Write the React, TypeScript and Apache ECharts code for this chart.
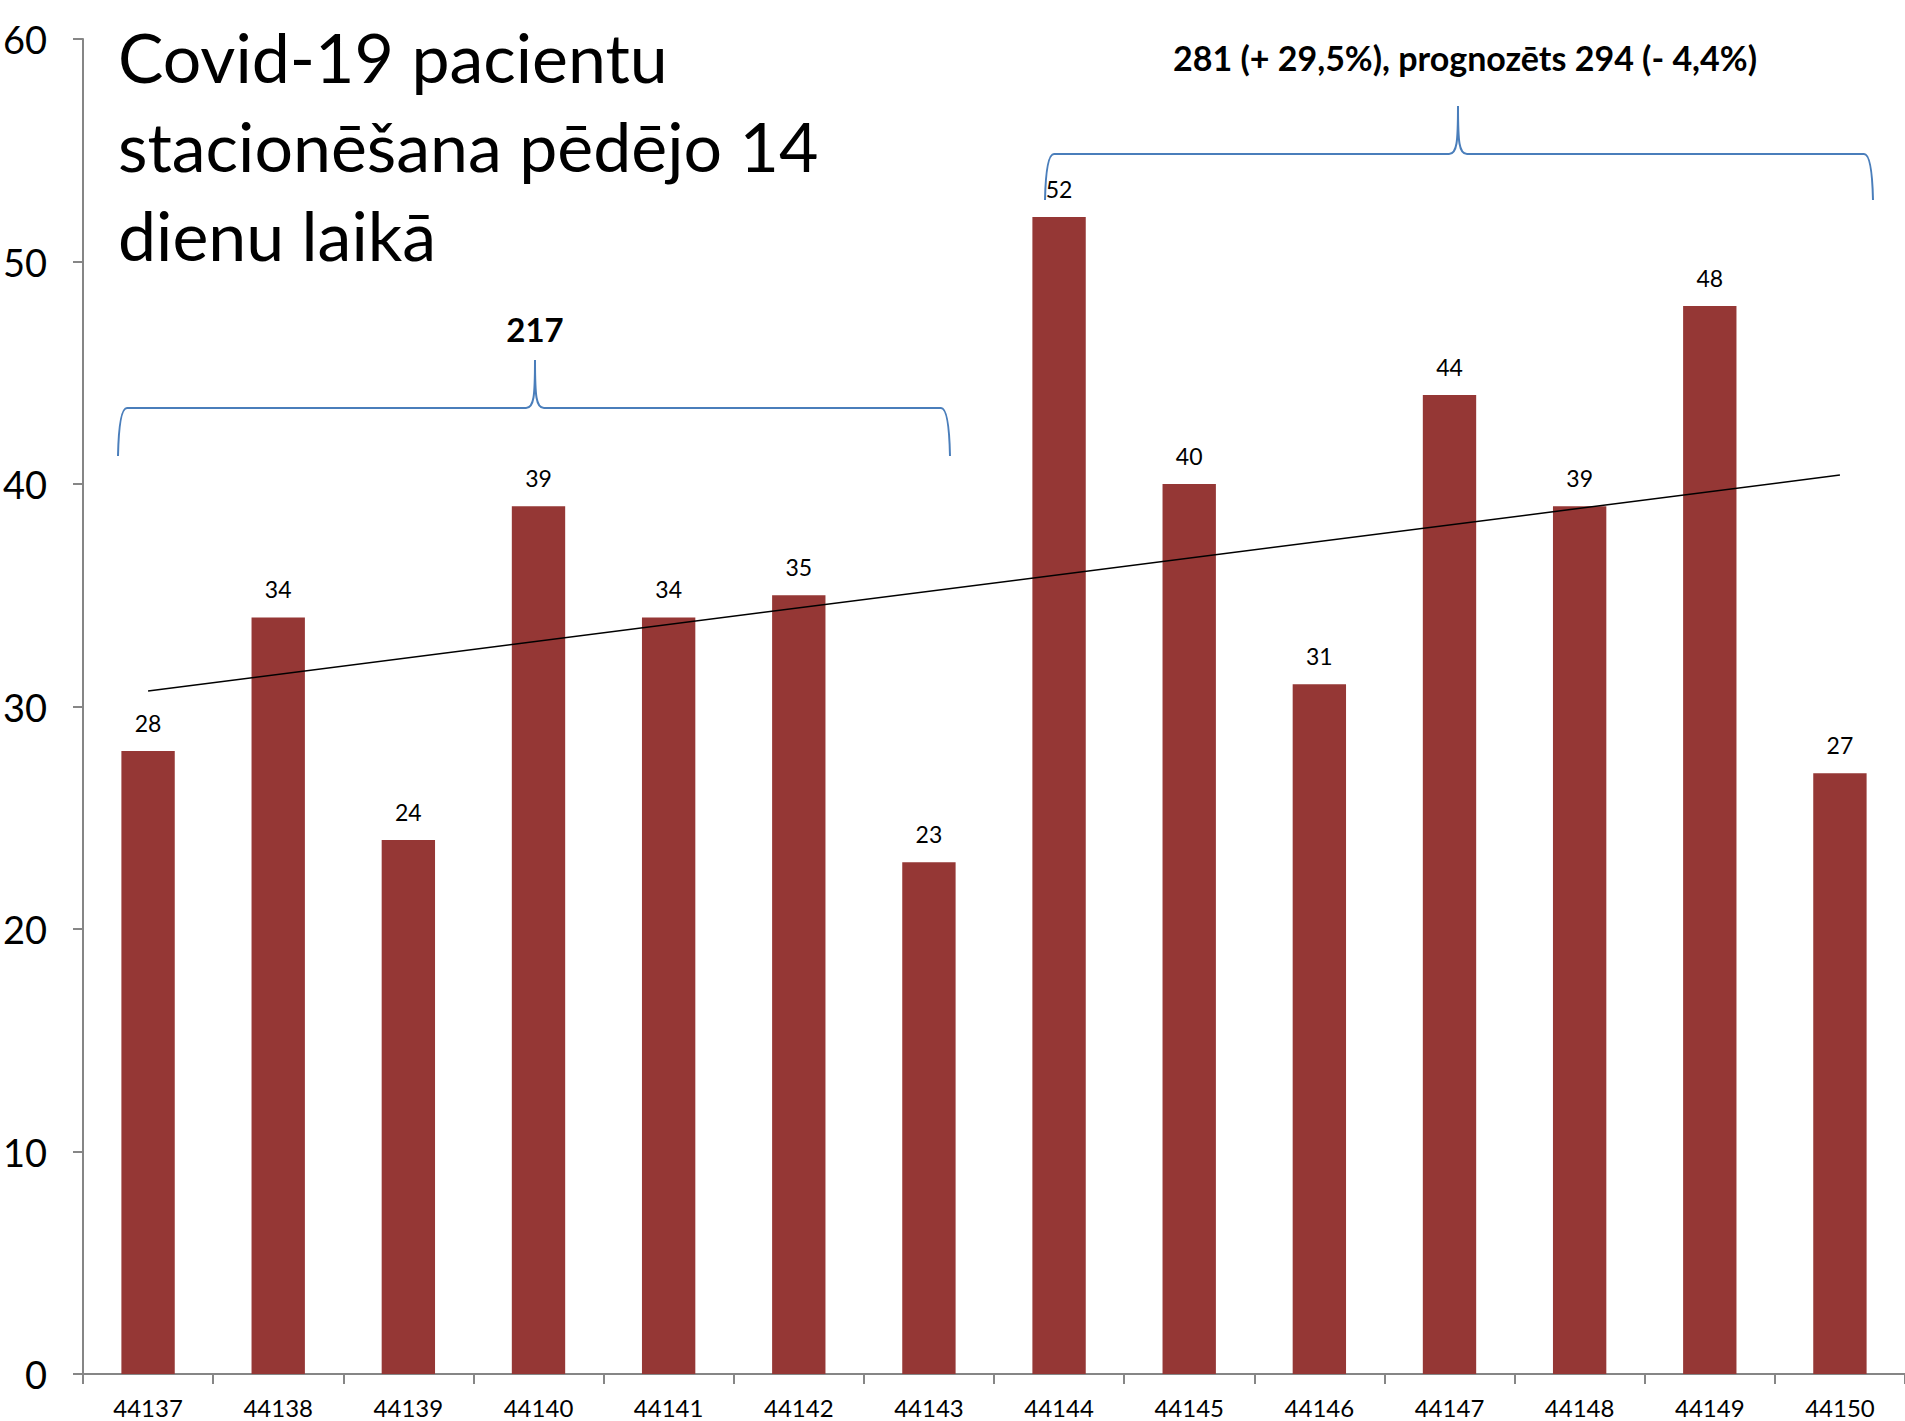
import React, { useEffect, useRef } from "react";
import * as echarts from "echarts";

const categories = ["44137", "44138", "44139", "44140", "44141", "44142", "44143", "44144", "44145", "44146", "44147", "44148", "44149", "44150"];
const values = [28, 34, 24, 39, 34, 35, 23, 52, 40, 31, 44, 39, 48, 27];
// trend line endpoints (first and last category)
const trendStart = 30.7;
const trendEnd = 40.4;
const titleLines = ["Covid-19 pacientu", "stacionēšana pēdējo 14", "dienu laikā"];
const brace1Label = "217";
const brace2Label = "281 (+ 29,5%), prognozēts 294 (- 4,4%)";

const FONT = "Lato, 'Open Sans', sans-serif";
const BRACE_COLOR = "#4a7ebb";

function brace(L: number, R: number, M: number, yH: number, yB: number, yT: number) {
  const s = { stroke: BRACE_COLOR, lineWidth: 2, fill: "none" };
  const r = 9;
  return {
    type: "group",
    silent: true,
    children: [
      { type: "bezierCurve", shape: { x1: L, y1: yB, cpx1: L + 1, cpy1: yH, x2: L + r, y2: yH }, style: s },
      { type: "line", shape: { x1: L + r, y1: yH, x2: M - r, y2: yH }, style: s },
      { type: "bezierCurve", shape: { x1: M - r, y1: yH, cpx1: M - 1, cpy1: yH, cpx2: M, cpy2: yH - 12, x2: M, y2: yT }, style: s },
      { type: "bezierCurve", shape: { x1: M + r, y1: yH, cpx1: M + 1, cpy1: yH, cpx2: M, cpy2: yH - 12, x2: M, y2: yT }, style: s },
      { type: "line", shape: { x1: M + r, y1: yH, x2: R - r, y2: yH }, style: s },
      { type: "bezierCurve", shape: { x1: R, y1: yB, cpx1: R - 1, cpy1: yH, x2: R - r, y2: yH }, style: s },
    ],
  };
}

export default function App() {
  const ref = useRef<HTMLDivElement>(null);
  useEffect(() => {
    document.body.style.margin = "0";
    document.body.style.overflow = "hidden";
    document.documentElement.style.overflow = "hidden";
    if (!ref.current) return;
    const chart = echarts.init(ref.current, null, { renderer: "svg" });
    const trend = categories.map((_, i) => (i === 0 ? trendStart : i === categories.length - 1 ? trendEnd : null));
    chart.setOption({
      animation: false,
      backgroundColor: "#ffffff",
      grid: { left: 83, right: 0, top: 39, bottom: 47, containLabel: false, outerBoundsMode: "none" },
      xAxis: {
        type: "category",
        data: categories,
        axisLine: { lineStyle: { color: "#868686", width: 2 } },
        axisTick: { show: true, length: 10, alignWithLabel: false, lineStyle: { color: "#868686", width: 2 } },
        axisLabel: { color: "#000", fontFamily: FONT, fontSize: 24, margin: 21 },
        splitLine: { show: false },
      },
      yAxis: {
        type: "value",
        min: 0,
        max: 60,
        interval: 10,
        axisLine: { show: true, lineStyle: { color: "#868686", width: 2 } },
        axisTick: { show: true, length: 10, lineStyle: { color: "#868686", width: 2 } },
        axisLabel: { color: "#000", fontFamily: FONT, fontSize: 38, margin: 36 },
        splitLine: { show: false },
      },
      series: [
        {
          type: "bar",
          data: values,
          barWidth: "41%",
          itemStyle: { color: "#953735" },
          label: { show: true, position: "top", distance: 17, color: "#000", fontFamily: FONT, fontSize: 23 },
        },
        {
          type: "line",
          data: trend,
          connectNulls: true,
          symbol: "none",
          lineStyle: { color: "#000", width: 1.5 },
          z: 5,
        },
      ],
      graphic: [
        {
          type: "text",
          left: 118,
          top: 12,
          silent: true,
          style: {
            text: titleLines.join("\n"),
            font: `68px ${FONT}`,
            lineHeight: 89,
            fill: "#000",
          },
        },
        brace(118, 950, 535, 408, 456, 360),
        {
          type: "text",
          x: 535,
          y: 329,
          silent: true,
          style: { text: brace1Label, font: `bold 33px ${FONT}`, fill: "#000", align: "center", verticalAlign: "middle" },
        },
        brace(1045, 1873, 1458, 154, 200, 106),
        {
          type: "text",
          x: 1465,
          y: 57,
          silent: true,
          style: { text: brace2Label, font: `bold 34px ${FONT}`, fill: "#000", align: "center", verticalAlign: "middle" },
        },
      ],
    });
    return () => chart.dispose();
  }, []);
  return <div ref={ref} style={{ width: 1905, height: 1421, overflow: "hidden" }} />;
}
